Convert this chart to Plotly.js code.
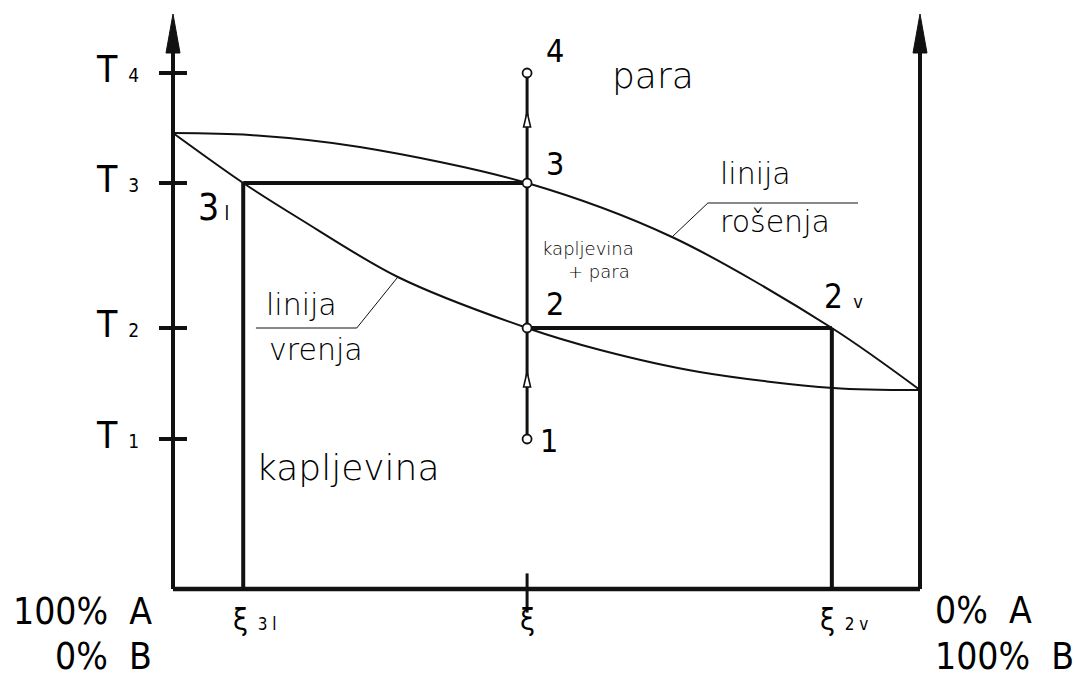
<!DOCTYPE html>
<html>
<head>
<meta charset="utf-8">
<script src="https://cdn.plot.ly/plotly-3.0.1.min.js"></script>
<style>
  html, body { margin: 0; padding: 0; background: #fff; }
  #chart { width: 1074px; height: 679px; }
</style>
</head>
<body>
<div id="chart"></div>
<script>
// composition axis: 0 = 100% A, 1 = 100% B ; temperature in arbitrary units
const tempTicks = [1.50, 2.61, 4.06, 5.16];
const tempTickLabels = ["1", "2", "3", "4"];

const dewX = [0, 0.103, 0.25, 0.474, 0.668, 0.882, 1];
const dewT = [4.56, 4.54, 4.42, 4.06, 3.52, 2.61, 1.99];

const boilX = [0, 0.094, 0.17, 0.301, 0.474, 0.572, 0.705, 0.884, 1];
const boilT = [4.56, 4.06, 3.70, 3.12, 2.61, 2.39, 2.17, 2.01, 1.99];

const xi3l = 0.094;
const xiMid = 0.474;
const xi2v = 0.882;

const pathT = [1.50, 2.61, 4.06, 5.16];
const pathLabels = ["1", "2", "3", "4"];
const pathArrowT = [2.17, 4.77];

const axisTop = 5.75;

const rosenjaLeaderX = [0.668, 0.716, 0.917];
const rosenjaLeaderT = [3.52, 3.86, 3.86];
const vrenjaLeaderX = [0.301, 0.246, 0.111];
const vrenjaLeaderT = [3.12, 2.61, 2.61];

// plot frame in page pixels: x 0 -> 173px, 1 -> 920px, T 0 -> 589px, 1 unit = 100px
const PX0 = 173, PX1 = 920, PY0 = 589, PYU = 100;
const X = px => (px - PX0) / (PX1 - PX0);
const Y = py => (PY0 - py) / PYU;
const M = { l: 153, r: 134, t: 10, b: 79 };
const W = 1074, H = 679;
const PW = W - M.l - M.r, PH = H - M.t - M.b;
const paperX = px => (px - M.l) / PW;
const paperY = py => (H - M.b - py) / PH;

const INK = "#111";
const WORD_FONT = "DejaVu Sans, sans-serif";
const NUM_FONT = "DejaVu Sans Condensed, DejaVu Sans, sans-serif";

function line(x, y, width, extra) {
  return Object.assign({
    type: "scatter", mode: "lines", x: x, y: y,
    line: { color: INK, width: width },
    hoverinfo: "skip", showlegend: false
  }, extra || {});
}

const traces = [
  // axes
  line([0, 0], [0, axisTop - 0.37], 4),
  line([1, 1], [0, axisTop - 0.37], 4),
  line([0, 1], [0, 0], 4.5),
  // phase curves
  line(dewX, dewT, 2, { line: { color: INK, width: 2, shape: "spline", smoothing: 0.9 } }),
  line(boilX, boilT, 2, { line: { color: INK, width: 2, shape: "spline", smoothing: 0.9 } }),
  // tie lines and composition drops
  line([xi3l, xiMid], [4.06, 4.06], 4),
  line([xiMid, xi2v], [2.61, 2.61], 4),
  line([xi3l, xi3l], [0, 4.06], 4),
  line([xi2v, xi2v], [0, 2.61], 4),
  // heating path
  line([xiMid, xiMid], [pathT[0], pathT[pathT.length - 1]], 3),
  // leaders
  line(rosenjaLeaderX, rosenjaLeaderT, 1),
  line(vrenjaLeaderX, vrenjaLeaderT, 1),
  // temperature ticks on the left axis
  {
    type: "scatter", mode: "markers", x: tempTicks.map(() => 0), y: tempTicks,
    marker: { symbol: "line-ew", size: 20, line: { color: INK, width: 4 } },
    cliponaxis: false, hoverinfo: "skip", showlegend: false
  },
  // composition tick at xi
  {
    type: "scatter", mode: "markers", x: [xiMid], y: [-0.04],
    marker: { symbol: "line-ns", size: 28, line: { color: INK, width: 3 } },
    cliponaxis: false, hoverinfo: "skip", showlegend: false
  },
  // state points
  {
    type: "scatter", mode: "markers", x: pathT.map(() => xiMid), y: pathT,
    marker: { symbol: "circle", size: 9, color: "#fff", line: { color: INK, width: 1.8 } },
    cliponaxis: false, hoverinfo: "skip", showlegend: false
  }
];

const shapes = [];
// filled arrowheads on top of both vertical axes
[0, 1].forEach(ax => {
  shapes.push({
    type: "path", xref: "x", yref: "y", xsizemode: "pixel", ysizemode: "pixel",
    xanchor: ax, yanchor: axisTop,
    path: "M -7 -39 L 0 0 L 7 -39 Z",
    fillcolor: INK, line: { color: INK, width: 1 }
  });
});
// open arrowheads along the heating path
pathArrowT.forEach(t => {
  shapes.push({
    type: "path", xref: "x", yref: "y", xsizemode: "pixel", ysizemode: "pixel",
    xanchor: xiMid, yanchor: t,
    path: "M -3.5 -15 L 0 0 L 3.5 -15 Z",
    fillcolor: "#fff", line: { color: INK, width: 1.6 }
  });
});

function label(text, x, y, size, family, opts) {
  const weight = family === WORD_FONT ? 300 : 400;
  return Object.assign({
    text: text, x: x, y: y, xref: "x", yref: "y",
    showarrow: false, xanchor: "left", yanchor: "middle",
    font: { family: family, size: size, color: "#000", weight: weight }
  }, opts || {});
}

// free text placed in page pixels
function pageLabel(text, px, py, size, family, opts) {
  return label(text, paperX(px), paperY(py), size, family,
    Object.assign({ xref: "paper", yref: "paper" }, opts || {}));
}

const small = (s, px) => `<span style="font-size:${px}px">${s}</span>`;

const annotations = [];

tempTicks.forEach((t, i) => {
  annotations.push(label("T" + small("  " + tempTickLabels[i], 19), 0, t, 37, NUM_FONT,
    { xanchor: "right", xshift: -32, yshift: 4 }));
});

pathT.forEach((t, i) => {
  const shifts = [[11, -2], [17, 24], [17, 19], [17, 22]];
  annotations.push(label(pathLabels[i], xiMid, t, 32, NUM_FONT,
    { xshift: shifts[i][0], yshift: shifts[i][1] }));
});

annotations.push(
  label("3" + small(" l", 19), xi3l, 4.06, 37, NUM_FONT, { xanchor: "right", xshift: -12, yshift: -24 }),
  label("2" + small("  v", 18), xi2v, 2.61, 33, NUM_FONT, { xshift: -10, yshift: 32 }),
  pageLabel("para", 610, 75.6, 36, WORD_FONT),
  pageLabel("kapljevina", 540, 248.8, 18, WORD_FONT),
  pageLabel("+ para", 566, 271.8, 18, WORD_FONT),
  pageLabel("linija", 718, 173.6, 30, WORD_FONT),
  pageLabel("rošenja", 718, 221.6, 30, WORD_FONT),
  pageLabel("linija", 264, 304.6, 30, WORD_FONT),
  pageLabel("vrenja", 267, 349.6, 30, WORD_FONT),
  pageLabel("kapljevina", 254, 467.6, 36, WORD_FONT),
  pageLabel("100%  A", 154, 611, 37, NUM_FONT, { xanchor: "right" }),
  pageLabel("0%  B", 154, 656, 37, NUM_FONT, { xanchor: "right" }),
  pageLabel("0%  A", 933, 610, 37, NUM_FONT),
  pageLabel("100%  B", 933, 656, 37, NUM_FONT),
  pageLabel("ξ" + small("  3 l", 17), 231, 619, 30, NUM_FONT),
  pageLabel("ξ", 527, 619, 30, NUM_FONT, { xanchor: "center" }),
  pageLabel("ξ" + small("  2 v", 17), 818, 619, 30, NUM_FONT)
);

const layout = {
  width: W,
  height: H,
  margin: M,
  paper_bgcolor: "#fff",
  plot_bgcolor: "#fff",
  showlegend: false,
  xaxis: {
    range: [X(M.l), X(W - M.r)],
    visible: false,
    fixedrange: true
  },
  yaxis: {
    range: [Y(H - M.b), Y(M.t)],
    visible: false,
    fixedrange: true
  },
  shapes: shapes,
  annotations: annotations
};

Plotly.newPlot("chart", traces, layout, { displayModeBar: false, staticPlot: true });
</script>
</body>
</html>
